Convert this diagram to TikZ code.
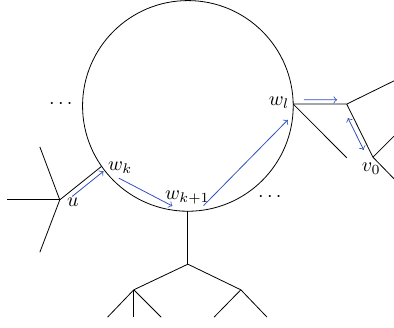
\documentclass[tikz,border=0pt]{standalone}
\usepackage{tikz}
\usetikzlibrary{calc}
\definecolor[named]{myColorWalk}{RGB}{50,80,190}

\begin{document}
\begin{tikzpicture}
[%
    walk/.style={
      ->,
      draw=myColorWalk,
      thin
    },
    walkback/.style={
      <->,
      draw=myColorWalk,
      thin
    },
    lbl/.style={
      inner sep=0pt
    }
  ]
  \useasboundingbox (-3.30,-3.90) rectangle (3.62,1.86);

  %Cycle
  \draw (0,0) coordinate (C) circle (1.85);
  \coordinate (wk) at (215:1.85);
  \coordinate (wk1) at (270:1.85);
  \coordinate (wl) at (1:1.85);
  \node[lbl] (Lwk) at (-1.19,-1.09) {$w_k$};
  \node[lbl] (Lwk1) at (-0.01,-1.61) {$w_{k+1}$};
  \node[lbl] (Lwl) at (1.60,0.05) {$w_l$};
  \node[lbl] (D1) at (-2.23,0.035) {$\cdots$};
  \node[lbl] (D2) at (1.44,-1.60) {$\cdots$};

  %Tree at u
  \coordinate (u) at (-2.25,-1.65);
  \coordinate (uA) at (-3.18,-1.65);
  \coordinate (uB) at (-2.60,-0.72);
  \coordinate (uC) at (-2.60,-2.57);
  \node[lbl] (Lu) at (-2.02,-1.69) {$u$};
  \draw (u) -- (wk);
  \draw (u) -- (uA);
  \draw (u) -- (uB);
  \draw (u) -- (uC);

  %Tree at w_{k+1}
  \coordinate (b) at (0,-2.78);
  \coordinate (b1) at (-0.95,-3.23);
  \coordinate (b2) at (0.93,-3.23);
  \coordinate (b11) at (-1.41,-3.71);
  \coordinate (b12) at (-0.95,-3.71);
  \coordinate (b13) at (-0.47,-3.71);
  \coordinate (b21) at (0.46,-3.71);
  \coordinate (b22) at (1.39,-3.71);
  \draw (wk1) -- (b);
  \draw (b) -- (b1);
  \draw (b) -- (b2);
  \draw (b1) -- (b11);
  \draw (b1) -- (b12);
  \draw (b1) -- (b13);
  \draw (b2) -- (b21);
  \draw (b2) -- (b22);

  %Tree at w_l
  \coordinate (a) at (2.79,0.032);
  \coordinate (aA) at (3.62,0.44);
  \coordinate (wlA) at (2.79,-0.91);
  \coordinate (v0) at (3.25,-0.90);
  \coordinate (vA) at (3.62,-0.53);
  \coordinate (vB) at (3.62,-1.28);
  \node[lbl] (Lv0) at (3.22,-1.11) {$v_0$};
  \draw (wl) -- (a);
  \draw (wl) -- (wlA);
  \draw (a) -- (aA);
  \draw (a) -- (v0);
  \draw (v0) -- (vA);
  \draw (v0) -- (vB);

  %Walk
  \draw[walk] ($(u)!0.22!(wk)+(0.055,-0.07)$) -- ($(u)!0.97!(wk)+(0.055,-0.07)$);
  \draw[walk] ($(wk)!0.2!(wk1)+(0,-0.05)$) -- ($(wk)!0.82!(wk1)+(0,-0.05)$);
  \draw[walk] ($(wk1)!0.1!(wl)+(0.09,-0.09)$) -- ($(wk1)!0.9!(wl)+(0.09,-0.09)$);
  \draw[walk] ($(wl)!0.2!(a)+(0,0.075)$) -- ($(wl)!0.82!(a)+(0,0.075)$);
  \draw[walkback] ($(a)!0.22!(v0)+(-0.08,-0.04)$) -- ($(a)!0.82!(v0)+(-0.08,-0.04)$);

\end{tikzpicture}
\end{document}
